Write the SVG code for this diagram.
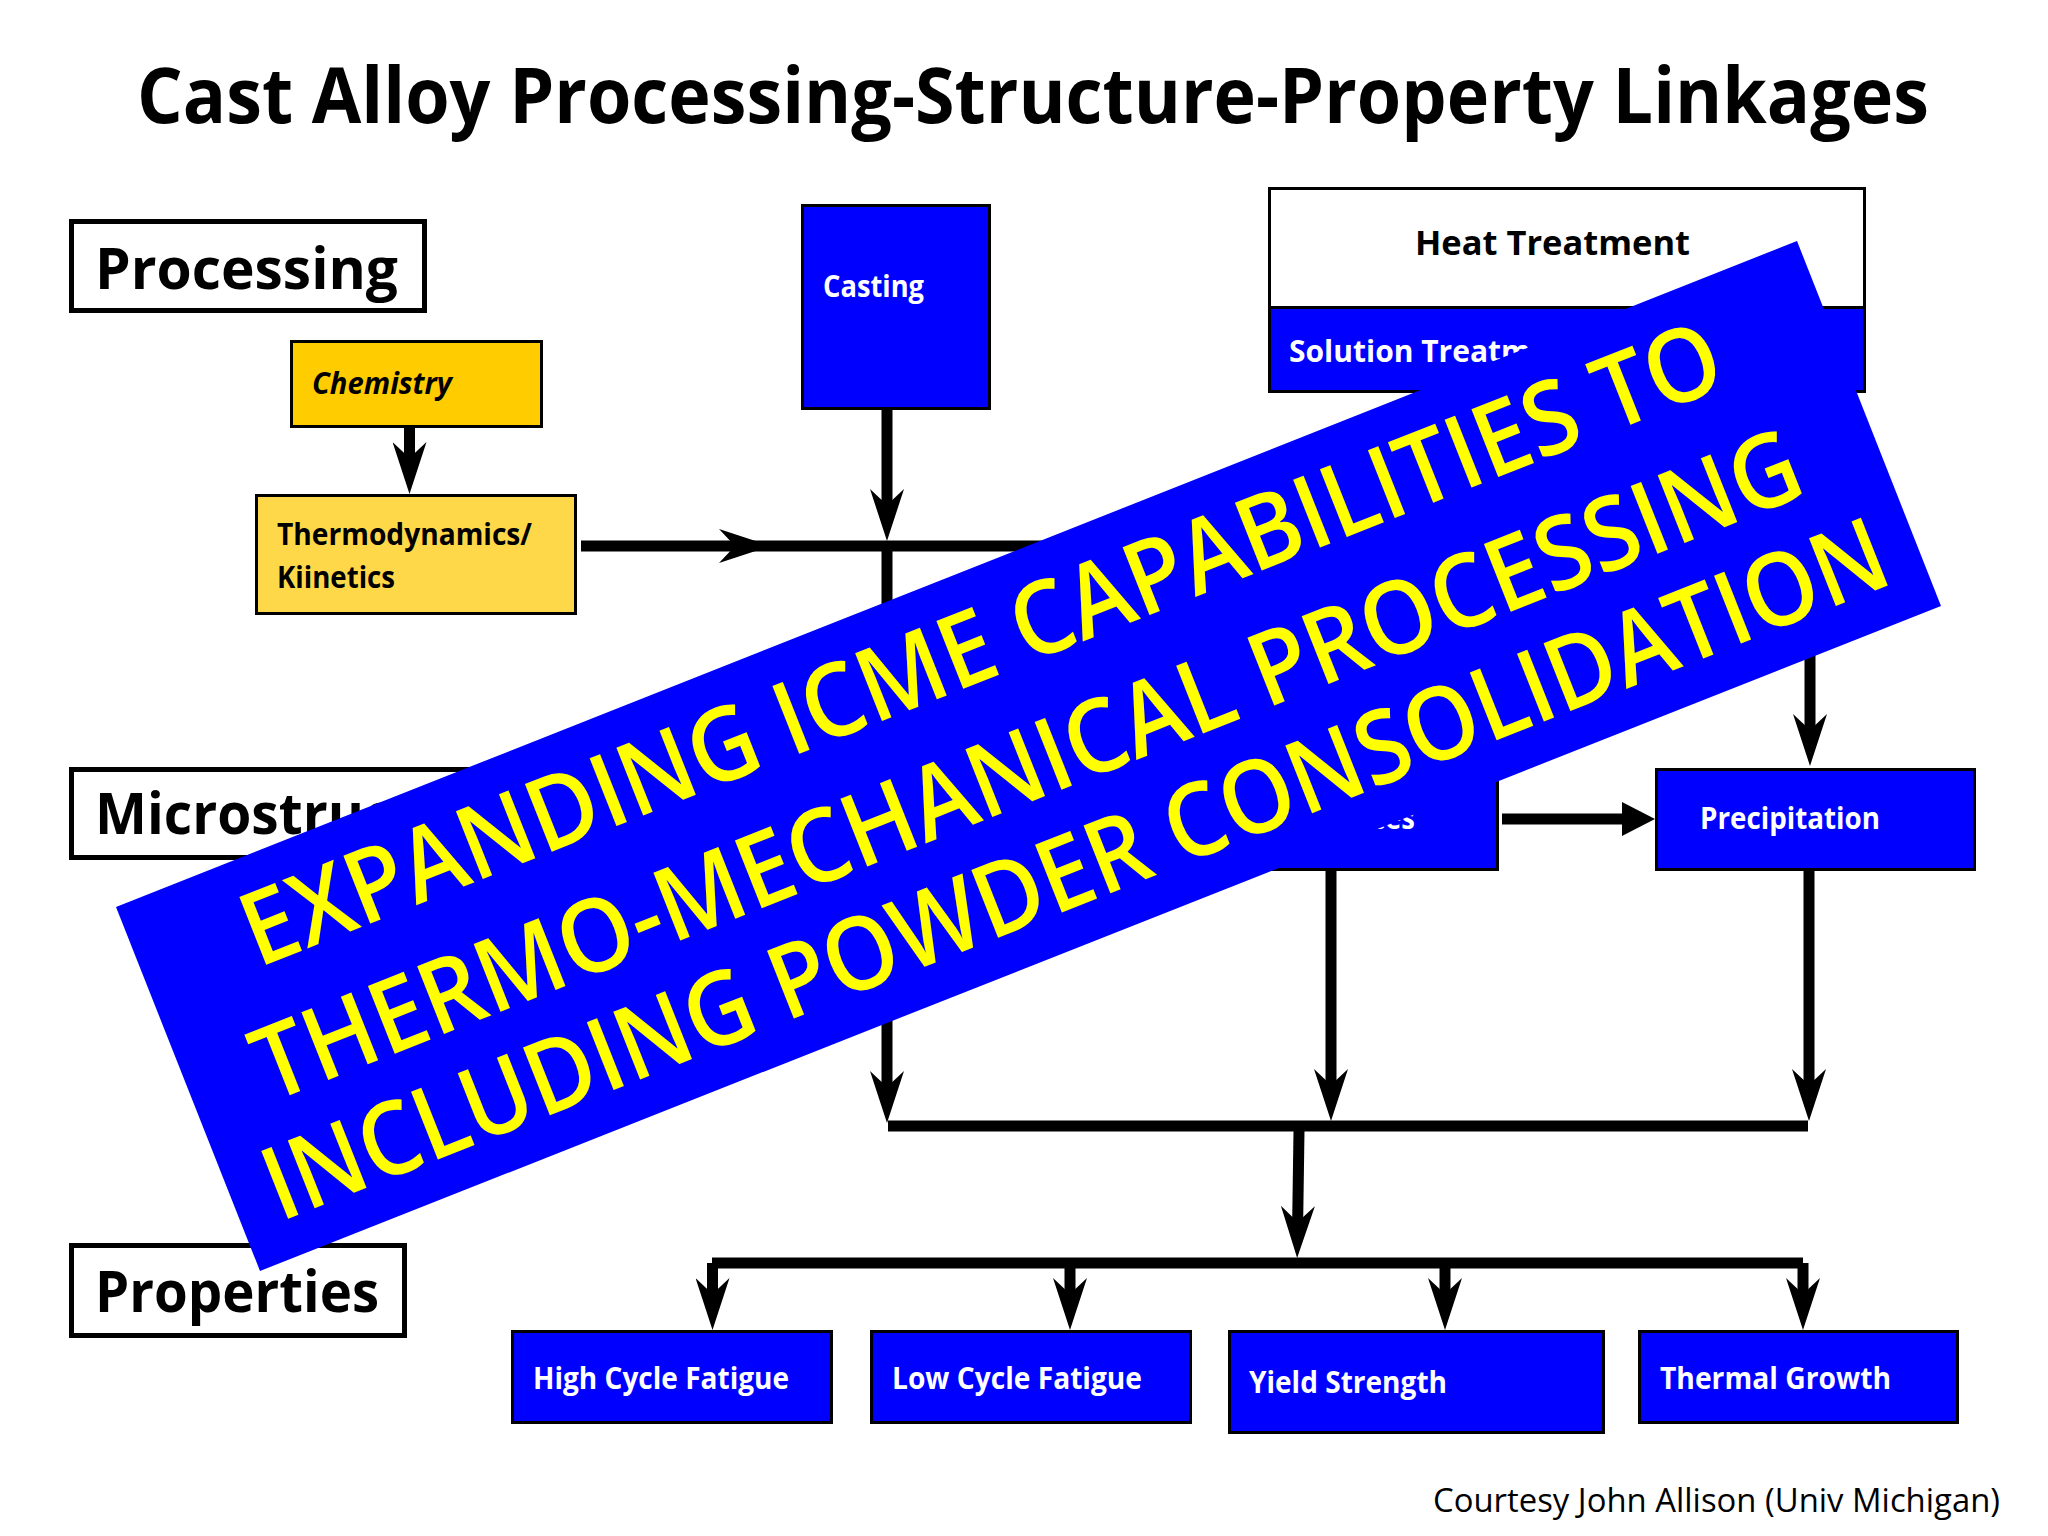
<svg xmlns="http://www.w3.org/2000/svg" width="2048" height="1536" viewBox="0 0 2048 1536">
<style>
text{font-family:"Open Sans","Noto Sans","Liberation Sans",sans-serif;font-weight:700;fill:#000}
.title{font-size:77px}
.cat{font-size:58px}
.b{fill:#00f;stroke:#000;stroke-width:3}
.cap{fill:#fff;stroke:#000;stroke-width:5}
.w{font-size:30px;fill:#fff}
.k{font-size:30px}
.ban{font-size:102px;fill:#ff0;font-weight:600}
.c{stroke:#000;stroke-width:11;fill:none}
.s{marker-end:url(#stealth)}
</style>
<defs>
<marker id="stealth" markerUnits="userSpaceOnUse" markerWidth="52" markerHeight="34" viewBox="0 0 52 34" refX="27" refY="17" orient="auto"><path d="M52,17L0,0L16,17L0,34Z" fill="#000"/></marker>
<marker id="tri" markerUnits="userSpaceOnUse" markerWidth="33" markerHeight="34" viewBox="0 0 33 34" refX="0" refY="17" orient="auto"><path d="M33,17L0,0V34Z" fill="#000"/></marker>
</defs>
<rect width="2048" height="1536" fill="#fff"/>
<text id="title" class="title" x="137" y="123" textLength="1792" lengthAdjust="spacingAndGlyphs">Cast Alloy Processing-Structure-Property Linkages</text>
<g id="processing"><rect class="cap" x="71.500" y="221.500" width="353" height="89"/><text class="cat" x="95" y="289" textLength="303" lengthAdjust="spacingAndGlyphs">Processing</text></g>
<g id="microstructure"><rect class="cap" x="71.500" y="769.500" width="460" height="88"/><text class="cat" x="95" y="834" textLength="415" lengthAdjust="spacingAndGlyphs">Microstructure</text></g>
<g id="properties"><rect class="cap" x="71.500" y="1245.500" width="333" height="90"/><text class="cat" x="95" y="1312" textLength="284" lengthAdjust="spacingAndGlyphs">Properties</text></g>
<g id="chemistry"><rect x="291.500" y="341.500" width="250" height="85" fill="#fc0" stroke="#000" stroke-width="3"/><text class="k" font-style="italic" x="312" y="394" textLength="140" lengthAdjust="spacingAndGlyphs">Chemistry</text></g>
<g id="thermo"><rect x="256.500" y="495.500" width="319" height="118" fill="#ffd84a" stroke="#000" stroke-width="3"/><text class="k" x="277" y="545" textLength="255" lengthAdjust="spacingAndGlyphs">Thermodynamics/</text><text class="k" x="277" y="588" textLength="118" lengthAdjust="spacingAndGlyphs">Kiinetics</text></g>
<g id="casting"><rect class="b" x="802.500" y="205.500" width="187" height="203"/><text class="w" x="823" y="297" textLength="101" lengthAdjust="spacingAndGlyphs">Casting</text></g>
<g id="heat"><rect x="1269.500" y="188.500" width="595" height="119" fill="#fff" stroke="#000" stroke-width="3"/><rect class="b" x="1269.500" y="307.500" width="595" height="84"/><text class="k" font-size="34" style="font-size:34px" x="1415" y="255" textLength="275" lengthAdjust="spacingAndGlyphs">Heat Treatment</text><text class="w" x="1289" y="362" textLength="292" lengthAdjust="spacingAndGlyphs">Solution Treatment</text></g>
<g id="ces"><rect class="b" x="1178.500" y="769.500" width="319" height="100"/><text class="w" x="1371" y="829" textLength="44" lengthAdjust="spacingAndGlyphs">ces</text></g>
<g id="precipitation"><rect class="b" x="1656.500" y="769.500" width="318" height="100"/><text class="w" x="1700" y="829" textLength="180" lengthAdjust="spacingAndGlyphs">Precipitation</text></g>
<g id="hcf"><rect class="b" x="512.500" y="1331.500" width="319" height="91"/><text class="w" x="533" y="1389" textLength="256" lengthAdjust="spacingAndGlyphs">High Cycle Fatigue</text></g>
<g id="lcf"><rect class="b" x="871.500" y="1331.500" width="319" height="91"/><text class="w" x="892" y="1389" textLength="250" lengthAdjust="spacingAndGlyphs">Low Cycle Fatigue</text></g>
<g id="yield"><rect class="b" x="1229.500" y="1331.500" width="374" height="101"/><text class="w" x="1249" y="1393" textLength="198" lengthAdjust="spacingAndGlyphs">Yield Strength</text></g>
<g id="thermal"><rect class="b" x="1639.500" y="1331.500" width="318" height="91"/><text class="w" x="1660" y="1389" textLength="231" lengthAdjust="spacingAndGlyphs">Thermal Growth</text></g>
<g id="connectors">
<path class="c s" d="M409.500,427V469"/>
<path class="c s" d="M887,410V516"/>
<path class="c s" d="M581,546H746"/>
<path class="c" d="M740,546H1331"/>
<path class="c s" d="M887,546V1098"/>
<path class="c s" d="M1331,871V1096"/>
<path class="c s" d="M1809,871V1096"/>
<path class="c s" d="M1810,393V741"/>
<path class="c" d="M1502,819H1622" marker-end="url(#tri)"/>
<path class="c" d="M888,1126H1808"/>
<path class="c s" d="M1299,1131L1297.500,1233"/>
<path class="c" d="M712,1263H1803"/>
<path class="c s" d="M712.500,1263V1305"/>
<path class="c s" d="M1070,1263V1305"/>
<path class="c s" d="M1445,1263V1305"/>
<path class="c s" d="M1803,1263V1305"/>
</g>
<g id="banner">
<polygon points="116,907 1797,241 1941,606 260,1271" fill="#00f"/>
<text class="ban" transform="translate(258,968) rotate(-21.6)" textLength="1583" lengthAdjust="spacingAndGlyphs">EXPANDING ICME CAPABILITIES TO</text>
<text class="ban" transform="translate(270,1103) rotate(-21.6)" textLength="1656" lengthAdjust="spacingAndGlyphs">THERMO-MECHANICAL PROCESSING</text>
<text class="ban" transform="translate(280,1222) rotate(-21.6)" textLength="1738" lengthAdjust="spacingAndGlyphs">INCLUDING POWDER CONSOLIDATION</text>
</g>
<text id="credit" x="1433" y="1512" style="font-size:33px;font-weight:400" textLength="567" lengthAdjust="spacingAndGlyphs">Courtesy John Allison (Univ Michigan)</text>
</svg>
